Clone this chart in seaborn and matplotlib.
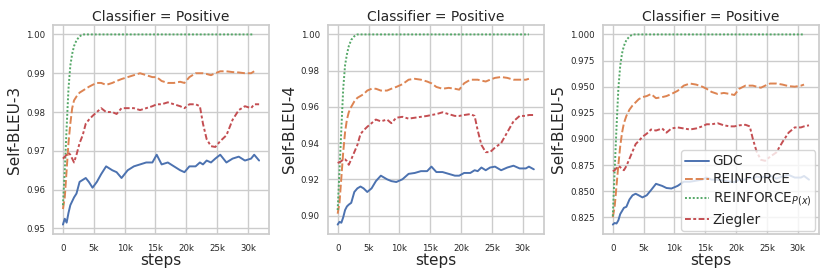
import numpy as np
import pandas as pd
import matplotlib
matplotlib.use("Agg")
import matplotlib.pyplot as plt
import seaborn as sns

# training steps shared by all curves (NaN where a run stopped earlier)
STEPS = [0, 300, 600, 900, 1200, 1500, 1800, 2200, 2700, 3200, 3700, 4200,
         4800, 5500, 6200, 7000, 8000, 8700, 9500, 10500, 11500, 12500,
         13500, 14500, 15200, 16000, 17000, 18000, 19000, 19700, 20500,
         21500, 22200, 22700, 23300, 24000, 24700, 25500, 26500, 27500,
         28500, 29500, 30500, 31000, 31800]

METHODS = ["GDC", "REINFORCE", "REINFORCE$_{P(x)}$", "Ziegler"]
METRICS = ["Self-BLEU-3", "Self-BLEU-4", "Self-BLEU-5"]
NA = np.nan

# Self-BLEU-3
gdc_b3 = [0.951, 0.9525, 0.9515, 0.954, 0.956, 0.957, 0.958, 0.959, 0.962, 0.9625, 0.963, 0.962,
          0.9605, 0.962, 0.964, 0.966, 0.965, 0.9645, 0.963, 0.965, 0.966, 0.9665,
          0.967, 0.967, 0.969, 0.9665, 0.967, 0.966, 0.965, 0.9645, 0.966,
          0.966, 0.967, 0.9665, 0.9675, 0.967, 0.968, 0.969, 0.967, 0.968,
          0.9685, 0.9675, 0.968, 0.969, 0.9675]
rl_b3 = [0.955, 0.958, 0.965, 0.972, 0.977, 0.981, 0.983, 0.984, 0.985, 0.9855, 0.986, 0.9865,
         0.987, 0.9875, 0.9875, 0.987, 0.9875, 0.988, 0.9885, 0.989, 0.9895, 0.990,
         0.9895, 0.989, 0.989, 0.988, 0.9875, 0.9875, 0.9878, 0.9875, 0.989,
         0.990, 0.990, 0.990, 0.9898, 0.9895, 0.990, 0.9905, 0.9905, 0.9903,
         0.9902, 0.990, 0.990, 0.9905, NA]
rlpx_b3 = [0.956, 0.965, 0.976, 0.986, 0.992, 0.995, 0.997, 0.9985, 0.9995, 1.0, 1.0, 1.0,
           1.0, 1.0, 1.0, 1.0, 1.0, 1.0, 1.0, 1.0, 1.0, 1.0,
           1.0, 1.0, 1.0, 1.0, 1.0, 1.0, 1.0, 1.0, 1.0,
           1.0, 1.0, 1.0, 1.0, 1.0, 1.0, 1.0, 1.0, 1.0,
           1.0, 1.0, 1.0, 1.0, NA]
zg_b3 = [0.968, 0.9685, 0.969, 0.9695, 0.969, 0.968, 0.967, 0.969, 0.972, 0.974, 0.977, 0.978,
         0.979, 0.980, 0.981, 0.980, 0.980, 0.9795, 0.981, 0.981, 0.981, 0.9805,
         0.981, 0.9815, 0.982, 0.982, 0.9825, 0.982, 0.9815, 0.981, 0.982,
         0.982, 0.9815, 0.977, 0.973, 0.9712, 0.971, 0.9725, 0.974, 0.978,
         0.9805, 0.9815, 0.981, 0.982, 0.982]

# Self-BLEU-4
gdc_b4 = [0.895, 0.8965, 0.896, 0.899, 0.903, 0.905, 0.906, 0.907, 0.913, 0.915, 0.916, 0.915,
          0.913, 0.915, 0.919, 0.922, 0.920, 0.919, 0.9185, 0.920, 0.923, 0.9235,
          0.9245, 0.9245, 0.927, 0.924, 0.924, 0.923, 0.922, 0.922, 0.9235,
          0.9235, 0.925, 0.9245, 0.9265, 0.925, 0.9265, 0.927, 0.925, 0.9265,
          0.9275, 0.926, 0.926, 0.927, 0.9255]
rl_b4 = [0.901, 0.907, 0.921, 0.935, 0.946, 0.953, 0.957, 0.960, 0.963, 0.965, 0.966, 0.967,
         0.969, 0.970, 0.970, 0.969, 0.969, 0.970, 0.971, 0.9725, 0.975, 0.9755,
         0.975, 0.974, 0.973, 0.971, 0.970, 0.9705, 0.970, 0.9695, 0.973,
         0.975, 0.975, 0.975, 0.9745, 0.974, 0.975, 0.976, 0.9765, 0.976,
         0.975, 0.975, 0.975, 0.9755, NA]
rlpx_b4 = [0.903, 0.925, 0.948, 0.970, 0.983, 0.989, 0.9935, 0.997, 0.999, 1.0, 1.0, 1.0,
           1.0, 1.0, 1.0, 1.0, 1.0, 1.0, 1.0, 1.0, 1.0, 1.0,
           1.0, 1.0, 1.0, 1.0, 1.0, 1.0, 1.0, 1.0, 1.0,
           1.0, 1.0, 1.0, 1.0, 1.0, 1.0, 1.0, 1.0, 1.0,
           1.0, 1.0, 1.0, 1.0, NA]
zg_b4 = [0.929, 0.9295, 0.930, 0.931, 0.931, 0.930, 0.928, 0.931, 0.935, 0.939, 0.945, 0.947,
         0.949, 0.951, 0.953, 0.952, 0.953, 0.951, 0.954, 0.9545, 0.9535, 0.954,
         0.9545, 0.955, 0.9555, 0.956, 0.957, 0.956, 0.955, 0.955, 0.9555,
         0.956, 0.955, 0.947, 0.939, 0.935, 0.935, 0.9375, 0.940, 0.946,
         0.952, 0.955, 0.955, 0.9555, 0.9555]

# Self-BLEU-5
gdc_b5 = [0.818, 0.8195, 0.819, 0.822, 0.828, 0.831, 0.834, 0.835, 0.842, 0.846, 0.8475, 0.846,
          0.844, 0.846, 0.851, 0.857, 0.855, 0.853, 0.8525, 0.855, 0.859, 0.859,
          0.860, 0.861, 0.863, 0.861, 0.861, 0.860, 0.859, 0.8585, 0.861,
          0.861, 0.863, 0.862, 0.864, 0.863, 0.864, 0.865, 0.862, 0.864,
          0.8655, 0.863, 0.863, 0.8645, 0.861]
rl_b5 = [0.825, 0.835, 0.855, 0.875, 0.893, 0.906, 0.915, 0.922, 0.928, 0.932, 0.935, 0.938,
         0.940, 0.941, 0.943, 0.939, 0.940, 0.941, 0.943, 0.946, 0.951, 0.953,
         0.952, 0.950, 0.948, 0.945, 0.943, 0.944, 0.943, 0.942, 0.948,
         0.951, 0.951, 0.951, 0.950, 0.949, 0.951, 0.953, 0.953, 0.952,
         0.9505, 0.950, 0.951, 0.952, NA]
rlpx_b5 = [0.826, 0.870, 0.911, 0.948, 0.970, 0.982, 0.989, 0.9946, 0.998, 1.0, 1.0, 1.0,
           1.0, 1.0, 1.0, 1.0, 1.0, 1.0, 1.0, 1.0, 1.0, 1.0,
           1.0, 1.0, 1.0, 1.0, 1.0, 1.0, 1.0, 1.0, 1.0,
           1.0, 1.0, 1.0, 1.0, 1.0, 1.0, 1.0, 1.0, 1.0,
           1.0, 1.0, 1.0, 1.0, NA]
zg_b5 = [0.869, 0.870, 0.872, 0.874, 0.873, 0.871, 0.870, 0.874, 0.881, 0.888, 0.895, 0.898,
         0.902, 0.905, 0.909, 0.908, 0.910, 0.906, 0.910, 0.911, 0.910, 0.909,
         0.910, 0.912, 0.914, 0.914, 0.915, 0.913, 0.912, 0.912, 0.913,
         0.9135, 0.912, 0.900, 0.888, 0.880, 0.879, 0.883, 0.887, 0.897,
         0.906, 0.911, 0.911, 0.912, 0.913]

SERIES = {
    "Self-BLEU-3": [gdc_b3, rl_b3, rlpx_b3, zg_b3],
    "Self-BLEU-4": [gdc_b4, rl_b4, rlpx_b4, zg_b4],
    "Self-BLEU-5": [gdc_b5, rl_b5, rlpx_b5, zg_b5],
}

rows = []
for metric, curves in SERIES.items():
    for method, vals in zip(METHODS, curves):
        for s, v in zip(STEPS, vals):
            rows.append({"metric": metric, "method": method, "steps": s, "value": v})
df = pd.DataFrame(rows).dropna()

sns.set_theme(style="whitegrid")
plt.rcParams["font.family"] = ["DejaVu Sans"]

fig = plt.figure(figsize=(8.3, 2.77), dpi=100)
lefts = [0.064, 0.395, 0.7265]

for i, metric in enumerate(METRICS):
    ax = fig.add_axes([lefts[i], 0.155, 0.26, 0.755])
    sub = df[df["metric"] == metric]
    sns.lineplot(data=sub, x="steps", y="value", hue="method", style="method",
                 hue_order=METHODS, style_order=METHODS, palette="deep",
                 linewidth=1.4, legend=(i == 2), ax=ax)
    ax.set_title("Classifier = Positive", fontsize=10, pad=3)
    ax.set_ylabel(metric, fontsize=11, labelpad=3)
    ax.set_xlabel("steps", fontsize=11, labelpad=0)
    ax.set_xticks([0, 5000, 10000, 15000, 20000, 25000, 30000])
    ax.set_xticklabels(["0", "5k", "10k", "15k", "20k", "25k", "30k"])
    ax.tick_params(axis="both", labelsize=6.2, length=0)
    ax.tick_params(axis="y", pad=5.8)
    ax.tick_params(axis="x", pad=7.5)
    if i == 2:
        ax.legend(title=None, loc="lower right", fontsize=9.8,
                  borderaxespad=0.25, handlelength=1.7, handletextpad=0.3,
                  labelspacing=0.3, borderpad=0.3)

fig.savefig("out.png", dpi=100)
